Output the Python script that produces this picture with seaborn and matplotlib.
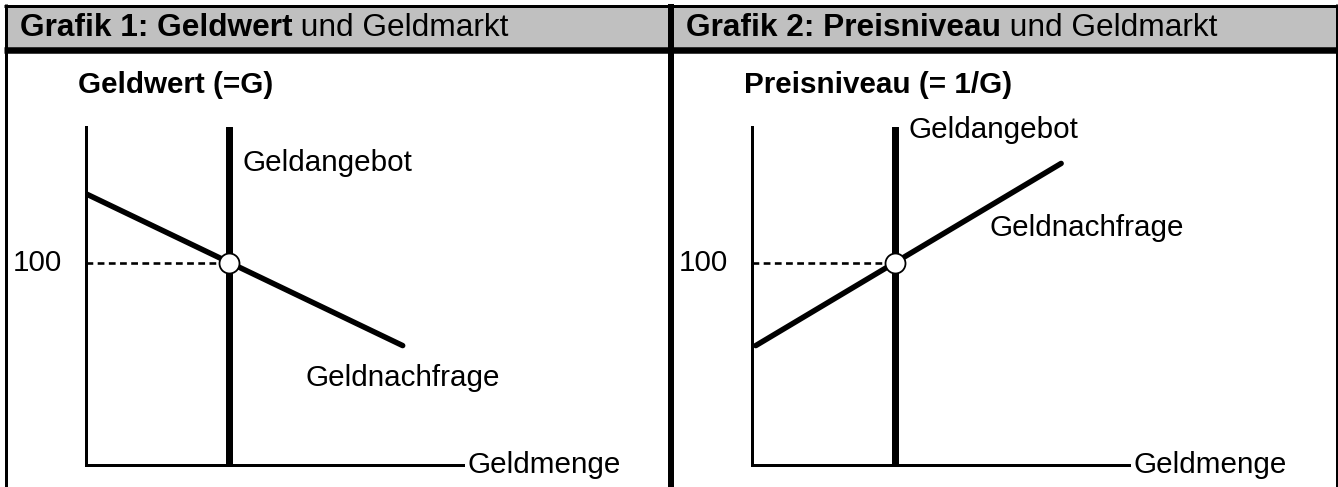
import matplotlib
matplotlib.use("Agg")
import matplotlib.pyplot as plt
import seaborn as sns
from matplotlib.patches import Rectangle

# chart content
titles_bold = ["Grafik 1: Geldwert", "Grafik 2: Preisniveau"]
titles_rest = [" und Geldmarkt", " und Geldmarkt"]
y_labels = ["Geldwert (=G)", "Preisniveau (= 1/G)"]
x_label = "Geldmenge"
supply_label = "Geldangebot"
demand_label = "Geldnachfrage"
level_label = "100"

# values (Geldmenge 0..10, vertical scale 0..167)
supply_x = [3.8, 3.8]
supply_y = [0, 167]
demand1_x = [0, 8.4]
demand1_y = [134, 59]
demand2_x = [0.1, 8.2]
demand2_y = [59, 149]
equil_x = [3.8]
equil_y = [100]
guide_x = [0, 3.8]
guide_y = [100, 100]

W, H = 1338, 487
DPI = 100
PX = 72 / DPI  # points per pixel

sns.set_theme(style="white")
plt.rcParams["font.family"] = ["Liberation Sans", "DejaVu Sans"]
plt.rcParams["text.color"] = "black"

fig = plt.figure(figsize=(W / DPI, H / DPI), dpi=DPI)
fig.patch.set_facecolor("white")

# frame and header bands
bg = fig.add_axes([0, 0, 1, 1], zorder=-1)
bg.set_xlim(0, W)
bg.set_ylim(H, 0)
bg.axis("off")
bg.add_patch(Rectangle((5, 6), W - 5, 42, facecolor="#c0c0c0", edgecolor="none"))
bg.plot([4, W], [5.8, 5.8], color="black", lw=3 * PX, solid_capstyle="butt")
bg.plot([4, W], [49.5, 49.5], color="black", lw=6.5 * PX, solid_capstyle="butt")
bg.plot([5.5, 5.5], [4.3, H], color="black", lw=3 * PX, solid_capstyle="butt")
bg.plot([670.5, 670.5], [4.3, H], color="black", lw=6 * PX, solid_capstyle="butt")
bg.plot([1336.5, 1336.5], [4.3, H], color="black", lw=3 * PX, solid_capstyle="butt")

FS = 21.3
HFS = 22.8
for i, x0 in enumerate([20, 686]):
    t = bg.text(x0, 28, titles_bold[i], fontsize=HFS, fontweight="bold",
                ha="left", va="center", color="black")
    bg.annotate(titles_rest[i], xy=(1, 0.5), xycoords=t, fontsize=HFS,
                ha="left", va="center", color="black")

demands = [(demand1_x, demand1_y), (demand2_x, demand2_y)]
ax_left = [86, 752]
ax_w, ax_top, ax_bottom = 377, 127, 465

for i in range(2):
    ax = fig.add_axes([ax_left[i] / W, 1 - ax_bottom / H,
                       ax_w / W, (ax_bottom - ax_top) / H])
    ax.set_xlim(0, 10)
    ax.set_ylim(0, 167)
    ax.patch.set_alpha(0)
    for s in ["top", "right"]:
        ax.spines[s].set_visible(False)
    for s in ["left", "bottom"]:
        ax.spines[s].set_linewidth(3 * PX)
        ax.spines[s].set_color("black")
    ax.set_xticks([])
    ax.set_yticks([])

    sns.lineplot(x=guide_x, y=guide_y, ax=ax, color="black", lw=2.6 * PX,
                 linestyle=(0, (2.6, 1.7)), estimator=None, sort=False,
                 zorder=2)
    sns.lineplot(x=supply_x, y=supply_y, ax=ax, color="black", lw=7 * PX,
                 estimator=None, sort=False, zorder=3)
    dx, dy = demands[i]
    sns.lineplot(x=dx, y=dy, ax=ax, color="black", lw=5.5 * PX,
                 estimator=None, sort=False, zorder=3)
    ax.plot(equil_x, equil_y, marker="o", markersize=20 * PX,
            markerfacecolor="white", markeredgecolor="black",
            markeredgewidth=1.8 * PX, linestyle="none", zorder=5)

    ax.text(-0.21, 187.7, y_labels[i], fontsize=FS, fontweight="bold",
            ha="left", va="center", clip_on=False)
    ax.text(-0.64, 100, level_label, fontsize=FS, ha="right", va="center",
            clip_on=False)
    ax.text(10.13, 0, x_label, fontsize=FS, ha="left", va="center",
            clip_on=False)
    if i == 0:
        ax.text(4.16, 149, supply_label, fontsize=FS, ha="left", va="center")
        ax.text(5.81, 43, demand_label, fontsize=FS, ha="left", va="center")
    else:
        ax.text(4.14, 165.5, supply_label, fontsize=FS, ha="left",
                va="center", clip_on=False)
        ax.text(6.31, 117, demand_label, fontsize=FS, ha="left", va="center")

fig.savefig("out.png", dpi=DPI, facecolor="white")
